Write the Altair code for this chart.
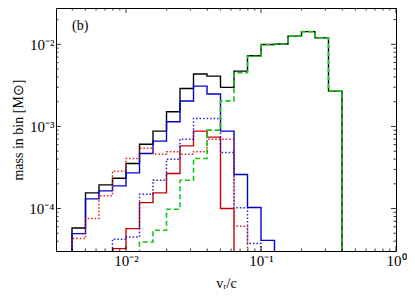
import altair as alt
import pandas as pd

# ---- data (bins of width 0.1 dex in log10(v_r/c)) ----
bin_log_edges = [-2.4, -2.3, -2.2, -2.1, -2.0, -1.9, -1.8, -1.7, -1.6, -1.5, -1.4,
                 -1.3, -1.2, -1.1, -1.0, -0.9, -0.8, -0.7, -0.6, -0.5, -0.4]
black_total = [5.80e-5, 1.55e-4, 1.94e-4, 2.34e-4, 3.54e-4, 6.08e-4, 8.77e-4, 1.51e-3,
               2.90e-3, 4.35e-3, 4.10e-3, 2.99e-3, 4.72e-3, 7.26e-3, 9.94e-3, 1.01e-2,
               1.26e-2, 1.43e-2, 1.20e-2, 2.69e-3]
blue_solid = [4.95e-5, 1.31e-4, 1.64e-4, 1.89e-4, 2.72e-4, 4.69e-4, 6.62e-4, 1.14e-3,
              2.04e-3, 3.10e-3, 2.48e-3, 8.77e-4, 2.60e-4, 1.03e-4, 4.10e-5,
              None, None, None, None, None]
red_solid = [None, None, None, 3.25e-5, 5.70e-5, 1.18e-4, 1.55e-4, 2.67e-4, 5.80e-4,
             8.77e-4, 7.41e-4, 1.00e-4, None, None, None, None, None, None, None, None]
blue_dotted = [None, None, None, 4.23e-5, 4.51e-5, 1.49e-4, 2.21e-4, 3.99e-4, 7.00e-4,
               1.25e-3, 1.25e-3, 4.82e-4, 1.02e-4, 3.74e-5, None, None, None, None, None, None]
red_dotted = [4.31e-5, 7.55e-5, 1.43e-4, 2.85e-4, 4.07e-4, 5.43e-4, 4.59e-4, 4.93e-4,
              4.59e-4, 4.93e-4, 7.00e-4, 7.00e-4, 6.08e-5, None, None, None, None, None, None, None]
green_dashed = [None, None, None, None, None, 3.92e-5, 5.43e-5, 9.80e-5, 2.21e-4, 4.07e-4,
                9.01e-4, 2.05e-3, 4.51e-3, 7.16e-3, 9.90e-3, 1.01e-2, 1.26e-2, 1.43e-2,
                1.20e-2, 2.69e-3]

x_tick_values = [0.01, 0.1, 1.0]
x_tick_labels = ["10⁻²", "10⁻¹", "10⁰"]
y_tick_values = [1e-4, 1e-3, 1e-2]
y_tick_labels = ["10⁻⁴", "10⁻³", "10⁻²"]

x_domain = [0.00303, 1.0]
y_domain = [3.04e-5, 0.0277]
FLOOR = 1e-7

series = [
    ("black", black_total, "#000000", [1, 0], 1.4),
    ("blue", blue_solid, "#0000d0", [1, 0], 1.4),
    ("red", red_solid, "#c80000", [1, 0], 1.4),
    ("bluedot", blue_dotted, "#2020d8", [1.5, 2], 1.5),
    ("reddot", red_dotted, "#d82020", [1.5, 2], 1.5),
    ("green", green_dashed, "#10c810", [5, 3], 1.6),
]

edges = [10 ** e for e in bin_log_edges]
rows = []
for name, vals, *_ in series:
    idx = [i for i, v in enumerate(vals) if v is not None]
    s, e = idx[0], idx[-1]
    k = 0
    rows.append(dict(s=name, v=edges[s], m=FLOOR, o=k)); k += 1
    for i in range(s, e + 1):
        rows.append(dict(s=name, v=edges[i], m=vals[i], o=k)); k += 1
    rows.append(dict(s=name, v=edges[e + 1], m=vals[e], o=k)); k += 1
    rows.append(dict(s=name, v=edges[e + 1], m=FLOOR, o=k)); k += 1
df = pd.DataFrame(rows)

FONT = "Liberation Serif"
W, H = 340, 243
PAD_L = 48


def label_expr(values, labels):
    expr = "''"
    for v, l in reversed(list(zip(values, labels))):
        expr = f"(abs(datum.value - {v}) < {v * 0.01}) ? '{l}' : " + expr
    return expr


xs = alt.Scale(type="log", domain=x_domain, nice=False)
ys = alt.Scale(type="log", domain=y_domain, nice=False)
xaxis = alt.Axis(values=x_tick_values, labelExpr=label_expr(x_tick_values, x_tick_labels),
                 ticks=False, domain=False, grid=False, labelFont=FONT, labelFontSize=15,
                 labelColor="black", labelPadding=2, labelFlush=False,
                 title="vᵣ/c", titleFont=FONT, titleFontSize=14, titleFontWeight="normal",
                 titleColor="black", titleY=32, titleBaseline="middle")
yaxis = alt.Axis(values=y_tick_values, labelExpr=label_expr(y_tick_values, y_tick_labels),
                 ticks=False, domain=False, grid=False, labelFont=FONT, labelFontSize=15,
                 labelColor="black", labelPadding=2, labelFlush=False,
                 title="mass in bin [M⊙]", titleFont=FONT, titleFontSize=14,
                 titleFontWeight="normal", titleColor="black", titleX=18 - 8 - PAD_L,
                 titleY=H / 2, titleAngle=-90, titleBaseline="middle", titleAlign="center")
X = alt.X("v:Q", scale=xs, axis=xaxis)
Y = alt.Y("m:Q", scale=ys, axis=yaxis)

layers = []
for name, vals, color, dash, sw in series:
    layers.append(
        alt.Chart(df).transform_filter(alt.datum.s == name)
        .mark_line(interpolate="step-after", color=color, strokeDash=dash,
                   strokeWidth=sw, clip=True)
        .encode(x=X, y=Y, order="o:Q")
    )

# inward ticks on all four sides
x_minor = [m * d for d in [1e-3, 1e-2, 1e-1] for m in range(2, 10)
           if x_domain[0] <= m * d <= x_domain[1]]
y_minor = [m * d for d in [1e-5, 1e-4, 1e-3, 1e-2] for m in range(2, 10)
           if y_domain[0] <= m * d <= y_domain[1]]
xt = pd.DataFrame({"v": x_tick_values + x_minor,
                   "L": [5] * len(x_tick_values) + [2.5] * len(x_minor)})
yt = pd.DataFrame({"m": y_tick_values + y_minor,
                   "L": [5] * len(y_tick_values) + [2.5] * len(y_minor)})
for lmax in [5, 2.5]:
    sub_x = xt[xt.L == lmax]
    sub_y = yt[yt.L == lmax]
    layers.append(alt.Chart(sub_x).mark_rule(color="black", strokeWidth=0.8)
                  .encode(x=X, y=alt.value(H), y2=alt.value(H - lmax)))
    layers.append(alt.Chart(sub_x).mark_rule(color="black", strokeWidth=0.8)
                  .encode(x=X, y=alt.value(0), y2=alt.value(lmax)))
    layers.append(alt.Chart(sub_y).mark_rule(color="black", strokeWidth=0.8)
                  .encode(y=Y, x=alt.value(0), x2=alt.value(lmax)))
    layers.append(alt.Chart(sub_y).mark_rule(color="black", strokeWidth=0.8)
                  .encode(y=Y, x=alt.value(W), x2=alt.value(W - lmax)))

panel_label = alt.Chart(pd.DataFrame({"t": ["(b)"]})).mark_text(
    font=FONT, fontSize=14, align="left", baseline="middle", color="black"
).encode(text="t:N", x=alt.value(16), y=alt.value(18))
layers.append(panel_label)

chart = alt.layer(*layers).properties(
    width=W, height=H,
    autosize=alt.AutoSizeParams(type="none"),
    padding={"left": PAD_L, "top": 0, "right": 11, "bottom": 42},
).configure_view(stroke="black", strokeWidth=1)

chart.save("out.html", embed_options={"renderer": "svg", "actions": False})
